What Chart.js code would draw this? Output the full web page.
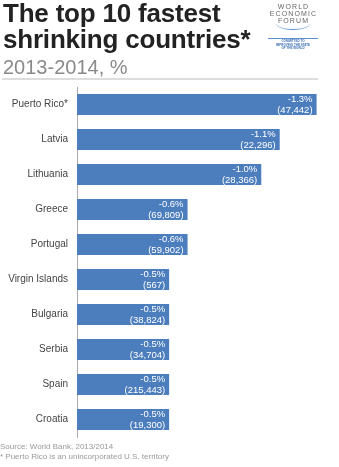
<!DOCTYPE html>
<html>
<head>
<meta charset="utf-8">
<script src="https://cdn.jsdelivr.net/npm/chart.js@4.4.1/dist/chart.umd.min.js"></script>
<style>
  html, body { margin: 0; padding: 0; background: #fff; }
  body { width: 339px; height: 467px; position: relative; overflow: hidden; font-family: "Liberation Sans", Arial, sans-serif; }
  #chart { position: absolute; left: 0; top: 0; }
  .t { position: absolute; white-space: nowrap; }
  .title { left: 3px; font-size: 26px; line-height: 26px; font-weight: bold; color: #222; letter-spacing: -0.2px; }
  .sub { left: 3px; top: 57px; font-size: 20px; line-height: 20px; color: #8a8a8a; }
  .rule { position: absolute; left: 2px; top: 78px; width: 316px; height: 2px; background: #ddd; }
  .logo { position: absolute; left: 266px; width: 55px; text-align: center; color: #666; font-size: 7px; line-height: 7px; letter-spacing: 1.1px; }
  .arc { position: absolute; left: 276px; top: 17px; width: 34px; height: 12px; border-bottom: 1px solid #5b8fcf; border-radius: 0 0 50% 50%; }
  .wefline { position: absolute; left: 268px; top: 38px; width: 50px; height: 1px; background: #5b8fcf; }
  .tag { position: absolute; left: 266px; top: 40px; width: 54px; text-align: center; color: #3a6fb5; font-size: 3px; line-height: 3.5px; font-weight: bold; }
  .foot { position: absolute; left: 0; font-size: 8px; line-height: 9px; color: #999; }
</style>
</head>
<body>
<canvas id="chart" width="339" height="467"></canvas>
<div class="t title" style="top:0">The top 10 fastest</div>
<div class="t title" style="top:26px">shrinking countries*</div>
<div class="t sub">2013-2014, %</div>
<div class="rule"></div>
<div class="logo" style="top:3px">WORLD</div>
<div class="logo" style="top:10px">ECONOMIC</div>
<div class="logo" style="top:17px">FORUM</div>
<div class="arc"></div>
<div class="wefline"></div>
<div class="tag">COMMITTED TO<br>IMPROVING THE STATE<br>OF THE WORLD</div>
<div class="foot" style="top:442px">Source: World Bank, 2013/2014</div>
<div class="foot" style="top:452px">* Puerto Rico is an unincorporated U.S. territory</div>

<script>
// ── Data ──
const countries = ['Puerto Rico*', 'Latvia', 'Lithuania', 'Greece', 'Portugal',
  'Virgin Islands', 'Bulgaria', 'Serbia', 'Spain', 'Croatia'];
const changePct = [-1.3, -1.1, -1.0, -0.6, -0.6, -0.5, -0.5, -0.5, -0.5, -0.5];
const peopleLost = [47442, 22296, 28366, 69809, 59902, 567, 38824, 34704, 215443, 19300];

const BAR_COLOR = '#4c7dbd';
const FONT = "'Liberation Sans', Arial, sans-serif";

// labels inside the bar end: percentage + people lost
const barLabels = {
  id: 'barLabels',
  afterDatasetsDraw(chart) {
    const ctx = chart.ctx;
    const meta = chart.getDatasetMeta(0);
    ctx.save();
    ctx.fillStyle = '#fff';
    ctx.textAlign = 'right';
    ctx.textBaseline = 'middle';
    ctx.font = `9.5px ${FONT}`;
    meta.data.forEach((bar, i) => {
      const x = bar.x - 4;
      ctx.fillText(changePct[i].toFixed(1) + '%', x, bar.y - 5);
      ctx.fillText('(' + peopleLost[i].toLocaleString('en-US') + ')', x, bar.y + 5.5);
    });
    ctx.restore();
  }
};

new Chart(document.getElementById('chart'), {
  type: 'bar',
  data: {
    labels: countries,
    datasets: [{
      data: changePct,
      backgroundColor: BAR_COLOR,
      borderWidth: 0,
      barPercentage: 0.6,
      categoryPercentage: 1
    }]
  },
  options: {
    indexAxis: 'y',
    responsive: false,
    animation: false,
    layout: { padding: { top: 87, bottom: 30, left: 0, right: 4 } },
    plugins: { legend: { display: false }, tooltip: { enabled: false } },
    scales: {
      x: { display: false, min: -1.4, max: 0, reverse: true },
      y: {
        afterFit(scale) { scale.width = 77; },
        grid: { display: false, drawTicks: false },
        border: { display: true, color: '#aaa', width: 1 },
        ticks: { color: '#444', padding: 9, font: { family: FONT, size: 10 } }
      }
    }
  },
  plugins: [barLabels]
});
</script>
</body>
</html>
